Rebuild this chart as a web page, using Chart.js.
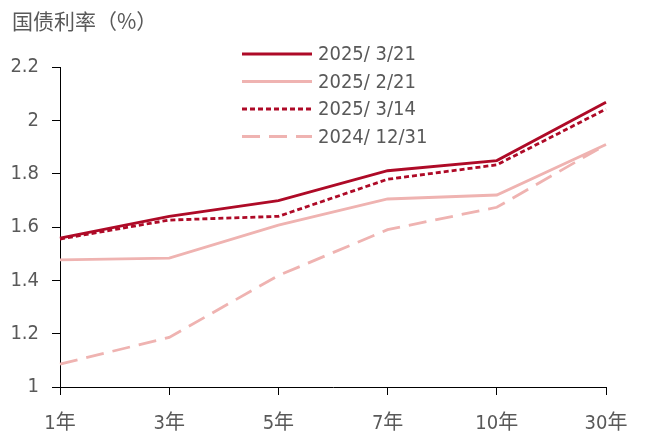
<!DOCTYPE html>
<html>
<head>
<meta charset="utf-8">
<script src="https://cdn.jsdelivr.net/npm/chart.js@4"></script>
<style>
  html, body { margin: 0; padding: 0; background: #fff; }
  #wrap { width: 646px; height: 436px; }
</style>
</head>
<body>
<div id="wrap"><canvas id="yieldChart" width="646" height="436"></canvas></div>
<script>
// 期限
const categories = ["1年", "3年", "5年", "7年", "10年", "30年"];
// 各日期国债收益率（%）
const seriesLabels = ["2025/ 3/21", "2025/ 2/21", "2025/ 3/14", "2024/ 12/31"];
const y20250321 = [1.558, 1.640, 1.699, 1.811, 1.849, 2.068];
const y20250221 = [1.477, 1.483, 1.607, 1.705, 1.720, 1.909];
const y20250314 = [1.555, 1.626, 1.640, 1.779, 1.833, 2.042];
const y20241231 = [1.086, 1.186, 1.418, 1.590, 1.674, 1.909];
const yMin = 1, yMax = 2.2, yStep = 0.2;

const FONT = '"DejaVu Sans Condensed", "Liberation Sans", "Noto Sans CJK SC", sans-serif';
const TEXT = "#595959";
const DARK = "#AE0A27";
const PINK = "#EFB3B1";

// 标题和图例直接画在画布上
const overlay = {
    id: "overlay",
    afterDraw(chart) {
        const ctx = chart.ctx;
        ctx.save();
        ctx.fillStyle = TEXT;
        ctx.textBaseline = "middle";
        ctx.textAlign = "left";
        ctx.font = '21px "Noto Sans CJK SC", sans-serif';
        ctx.fillText("国债利率（%）", 12, 21);

        ctx.font = "20px " + FONT;
        chart.data.datasets.forEach((ds, i) => {
            let y = 54 + i * 27.5;
            ctx.beginPath();
            ctx.strokeStyle = ds.borderColor;
            ctx.lineWidth = ds.borderWidth;
            ctx.setLineDash(ds.borderDash || []);
            ctx.moveTo(242, y);
            ctx.lineTo(312, y);
            ctx.stroke();
            ctx.setLineDash([]);
            ctx.fillStyle = TEXT;
            ctx.fillText(ds.label, 318, y + 1);
        });
        ctx.restore();
    }
};

function line(label, data, color, dash) {
    return {
        label: label,
        data: data,
        borderColor: color,
        backgroundColor: color,
        borderWidth: 2.8,
        borderDash: dash,
        pointRadius: 0,
        tension: 0,
        fill: false
    };
}

new Chart(document.getElementById("yieldChart").getContext("2d"), {
    type: "line",
    data: {
        labels: categories,
        datasets: [
            line(seriesLabels[0], y20250321, DARK, []),
            line(seriesLabels[1], y20250221, PINK, []),
            line(seriesLabels[2], y20250314, DARK, [5, 3]),
            line(seriesLabels[3], y20241231, PINK, [18, 9])
        ]
    },
    options: {
        responsive: false,
        animation: false,
        layout: { padding: { left: 0, top: 67, right: 40, bottom: 0 } },
        plugins: {
            legend: { display: false },
            tooltip: { enabled: false }
        },
        scales: {
            x: {
                offset: false,
                afterFit: s => { s.height = 49; },
                grid: { drawOnChartArea: false, drawTicks: true, tickLength: 8, color: "#000", lineWidth: 1 },
                border: { display: true, color: "#000", width: 1 },
                ticks: { color: TEXT, font: { family: FONT, size: 20 }, padding: 17, maxRotation: 0 }
            },
            y: {
                min: yMin,
                max: yMax,
                afterFit: s => { s.width = 60; },
                grid: { drawOnChartArea: false, drawTicks: true, tickLength: 8, color: "#000", lineWidth: 1 },
                border: { display: true, color: "#000", width: 1 },
                ticks: {
                    stepSize: yStep,
                    color: TEXT,
                    font: { family: FONT, size: 20 },
                    padding: 13,
                    callback: v => String(+Number(v).toFixed(1))
                }
            }
        }
    },
    plugins: [overlay]
});
</script>
</body>
</html>
